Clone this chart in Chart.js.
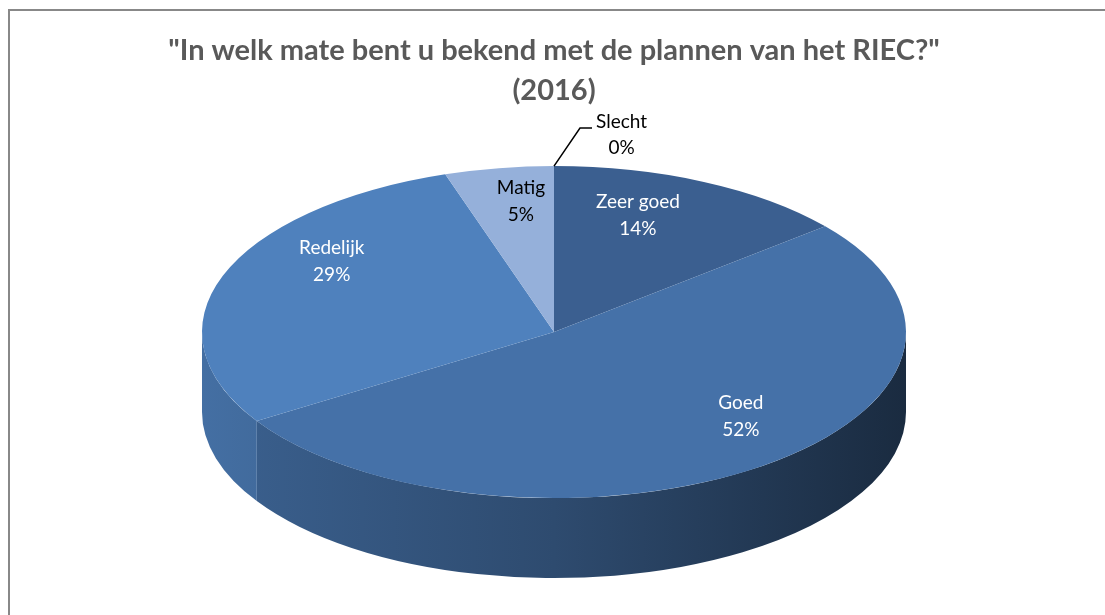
<!DOCTYPE html>
<html>
<head>
<meta charset="utf-8">
<script src="https://cdn.jsdelivr.net/npm/chart.js@4.4.1/dist/chart.umd.min.js"></script>
<style>
  html, body { margin: 0; padding: 0; background: #ffffff; }
  #wrap { position: relative; width: 1105px; height: 615px; overflow: hidden; }
  #frame { position: absolute; left: 8px; top: 9px; width: 1200px; height: 700px;
           border-left: 2px solid #888888; border-top: 2px solid #888888; }
  #pie { position: absolute; left: 0; top: 0; }
</style>
</head>
<body>
<div id="wrap">
  <div id="frame"></div>
  <canvas id="pie" width="1105" height="615"></canvas>
</div>
<script>
// 1. Data grafik
const judul = ['"In welk mate bent u bekend met de plannen van het RIEC?"', '(2016)'];
const kategori = ['Zeer goed', 'Goed', 'Redelijk', 'Matig', 'Slecht'];
const persen = [14, 52, 29, 5, 0];

// 2. Warna per irisan (atas) dan warna teks label
const warnaAtas = ['#3b5f90', '#4571a8', '#4f81bd', '#95b0da', '#b8c9e6'];
const warnaTeks = ['#ffffff', '#ffffff', '#ffffff', '#000000', '#000000'];
const jarakLabel = [0.64, 0.8, 0.72, 0.7, 0];

// Ukuran elips 3D
const RX = 352, RY = 166, TEBAL = 80;
const FONT = "'Lato', 'DejaVu Sans', sans-serif";

// Fungsi pembantu: gelapkan warna hex
const gelap = (hex, f) => {
    const n = parseInt(hex.slice(1), 16);
    const r = Math.round(((n >> 16) & 255) * f);
    const g = Math.round(((n >> 8) & 255) * f);
    const b = Math.round((n & 255) * f);
    return `rgb(${r},${g},${b})`;
};

// Posisi label dengan sedikit perspektif (pusat tampak lebih ke atas)
const letakLabel = (cx, cy, sudut, r) => {
    const u = r * Math.cos(sudut), v = r * Math.sin(sudut);
    const den = 1 - 0.205 * v;
    return { x: cx + 344.5 * u / den, y: cy - 34 + 159 * v / den };
};

// 3. Plugin untuk efek pie 3D (sisi samping + label)
const pie3d = {
    id: 'pie3d',
    beforeDatasetsDraw(chart) {
        const ctx = chart.ctx;
        const arcs = chart.getDatasetMeta(0).data;
        const { x: cx, y: cy, outerRadius: R } = arcs[0];

        // sisi depan (hanya sudut 0..PI yang terlihat)
        arcs.forEach((arc, i) => {
            const a0 = Math.max(arc.startAngle, 0);
            const a1 = Math.min(arc.endAngle, Math.PI);
            if (a1 <= a0) return;
            const grad = ctx.createLinearGradient(cx - RX, 0, cx + RX, 0);
            grad.addColorStop(0, gelap(warnaAtas[i], 0.86));
            grad.addColorStop(0.5, gelap(warnaAtas[i], 0.66));
            grad.addColorStop(1, gelap(warnaAtas[i], 0.38));
            ctx.beginPath();
            ctx.ellipse(cx, cy, RX, RY, 0, a0, a1, false);
            ctx.ellipse(cx, cy + TEBAL, RX, RY, 0, a1, a0, true);
            ctx.closePath();
            ctx.fillStyle = grad;
            ctx.fill();
        });

        // pipihkan lingkaran jadi elips untuk permukaan atas
        ctx.save();
        ctx.translate(cx, cy);
        ctx.scale(RX / R, RY / R);
        ctx.translate(-cx, -cy);
    },
    afterDatasetsDraw(chart) {
        const ctx = chart.ctx;
        ctx.restore();
        const arcs = chart.getDatasetMeta(0).data;
        const { x: cx, y: cy } = arcs[0];

        ctx.save();
        ctx.font = '19px ' + FONT;
        ctx.textAlign = 'center';
        ctx.textBaseline = 'middle';
        arcs.forEach((arc, i) => {
            const baris = [kategori[i], persen[i] + '%'];
            ctx.fillStyle = warnaTeks[i];
            if (persen[i] > 0) {
                const tengah = (arc.startAngle + arc.endAngle) / 2;
                const p = letakLabel(cx, cy, tengah, jarakLabel[i]);
                ctx.fillText(baris[0], p.x, p.y - 13.5);
                ctx.fillText(baris[1], p.x, p.y + 13.5);
            } else {
                // irisan 0% -> label di luar dengan garis penunjuk
                const ex = cx + RX * Math.cos(arc.startAngle);
                const ey = cy + RY * Math.sin(arc.startAngle);
                const sikuX = ex + 26, sikuY = ey - 38;
                ctx.beginPath();
                ctx.moveTo(ex, ey);
                ctx.lineTo(sikuX, sikuY);
                ctx.lineTo(sikuX + 12, sikuY);
                ctx.strokeStyle = '#000000';
                ctx.lineWidth = 1.5;
                ctx.stroke();
                const lebar = Math.max(...baris.map(t => ctx.measureText(t).width));
                const tx = sikuX + 16 + lebar / 2;
                ctx.fillText(baris[0], tx, sikuY - 6);
                ctx.fillText(baris[1], tx, sikuY + 20);
            }
        });
        ctx.restore();
    }
};

// 4. Buat Chart
const ctx = document.getElementById('pie').getContext('2d');
const myChart = new Chart(ctx, {
    type: 'pie',
    data: {
        labels: kategori,
        datasets: [{
            data: persen,
            backgroundColor: warnaAtas,
            borderWidth: 0,
            clip: false
        }]
    },
    options: {
        responsive: false,
        animation: false,
        layout: { padding: { top: 0, bottom: 71, left: 3, right: 0 } },
        plugins: {
            legend: { display: false },
            tooltip: { enabled: false },
            title: {
                display: true,
                text: judul,
                color: '#595959',
                padding: { top: 30, bottom: 9 },
                font: { family: FONT, size: 29, weight: 'bold', lineHeight: 1.4 }
            }
        }
    },
    plugins: [pie3d]
});
</script>
</body>
</html>
